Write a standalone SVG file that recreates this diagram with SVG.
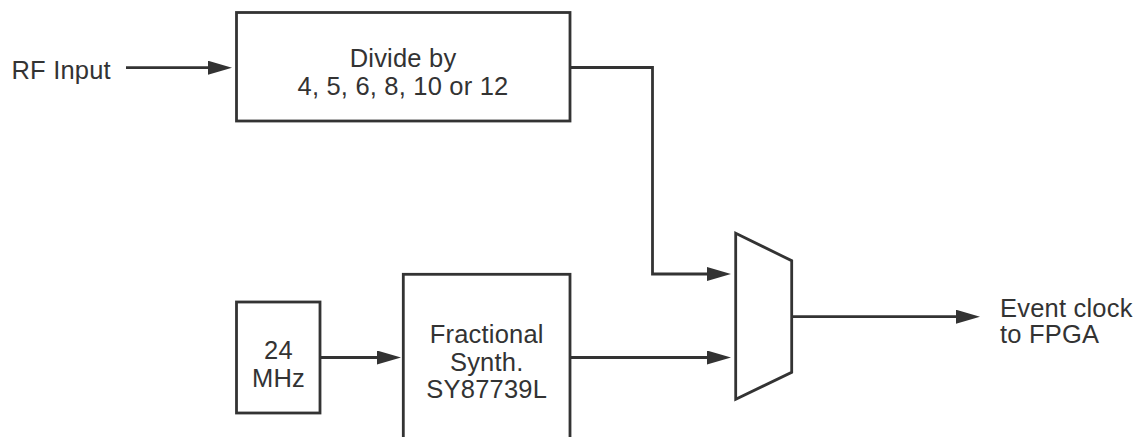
<svg xmlns="http://www.w3.org/2000/svg" width="1136" height="437" viewBox="0 0 1136 437">
<style>
.box{fill:#fff;stroke:#333;stroke-width:2.8}
.wire{fill:none;stroke:#333;stroke-width:2.8}
.t{font-family:"Liberation Sans",Arial,sans-serif;font-size:25.5px;fill:#333;letter-spacing:0.2px}
.c{text-anchor:middle}
</style>
<defs>
<marker id="arr" viewBox="0 0 24 14" refX="4" refY="7" markerWidth="24" markerHeight="14" markerUnits="userSpaceOnUse" orient="auto">
<path d="M0,0 L24,7 L0,14 z" fill="#333"/>
</marker>
</defs>
<rect width="1136" height="437" fill="#fff"/>
<g id="connectors">
<path class="wire" d="M126,67.7 H212" marker-end="url(#arr)"/>
<path class="wire" d="M570,67.5 H652.5 V274 H711" marker-end="url(#arr)"/>
<path class="wire" d="M320,357.5 H381" marker-end="url(#arr)"/>
<path class="wire" d="M570,357.5 H711" marker-end="url(#arr)"/>
<path class="wire" d="M791.7,316.7 H960" marker-end="url(#arr)"/>
</g>
<g id="rf-input">
<text class="t" x="11.5" y="79.3">RF Input</text>
</g>
<g id="divider">
<rect class="box" x="236.5" y="12.5" width="333.5" height="108.5"/>
<text class="t c" x="403" y="66.5">Divide by</text>
<text class="t c" x="403" y="95">4, 5, 6, 8, 10 or 12</text>
</g>
<g id="osc">
<rect class="box" x="236.5" y="302" width="83.5" height="111"/>
<text class="t c" x="278.5" y="358.7">24</text>
<text class="t c" x="278.5" y="386.7">MHz</text>
</g>
<g id="synth">
<rect class="box" x="403.3" y="274.3" width="166.7" height="200"/>
<text class="t c" x="486.7" y="343.3">Fractional</text>
<text class="t c" x="486.7" y="370.5">Synth.</text>
<text class="t c" x="486.7" y="398.3">SY87739L</text>
</g>
<g id="mux">
<polygon class="box" points="735.7,233.3 791.7,260.7 791.7,372.3 735.7,399.3"/>
</g>
<g id="output">
<text class="t" x="1000" y="316.7">Event clock</text>
<text class="t" x="1000" y="343.3">to FPGA</text>
</g>
</svg>
